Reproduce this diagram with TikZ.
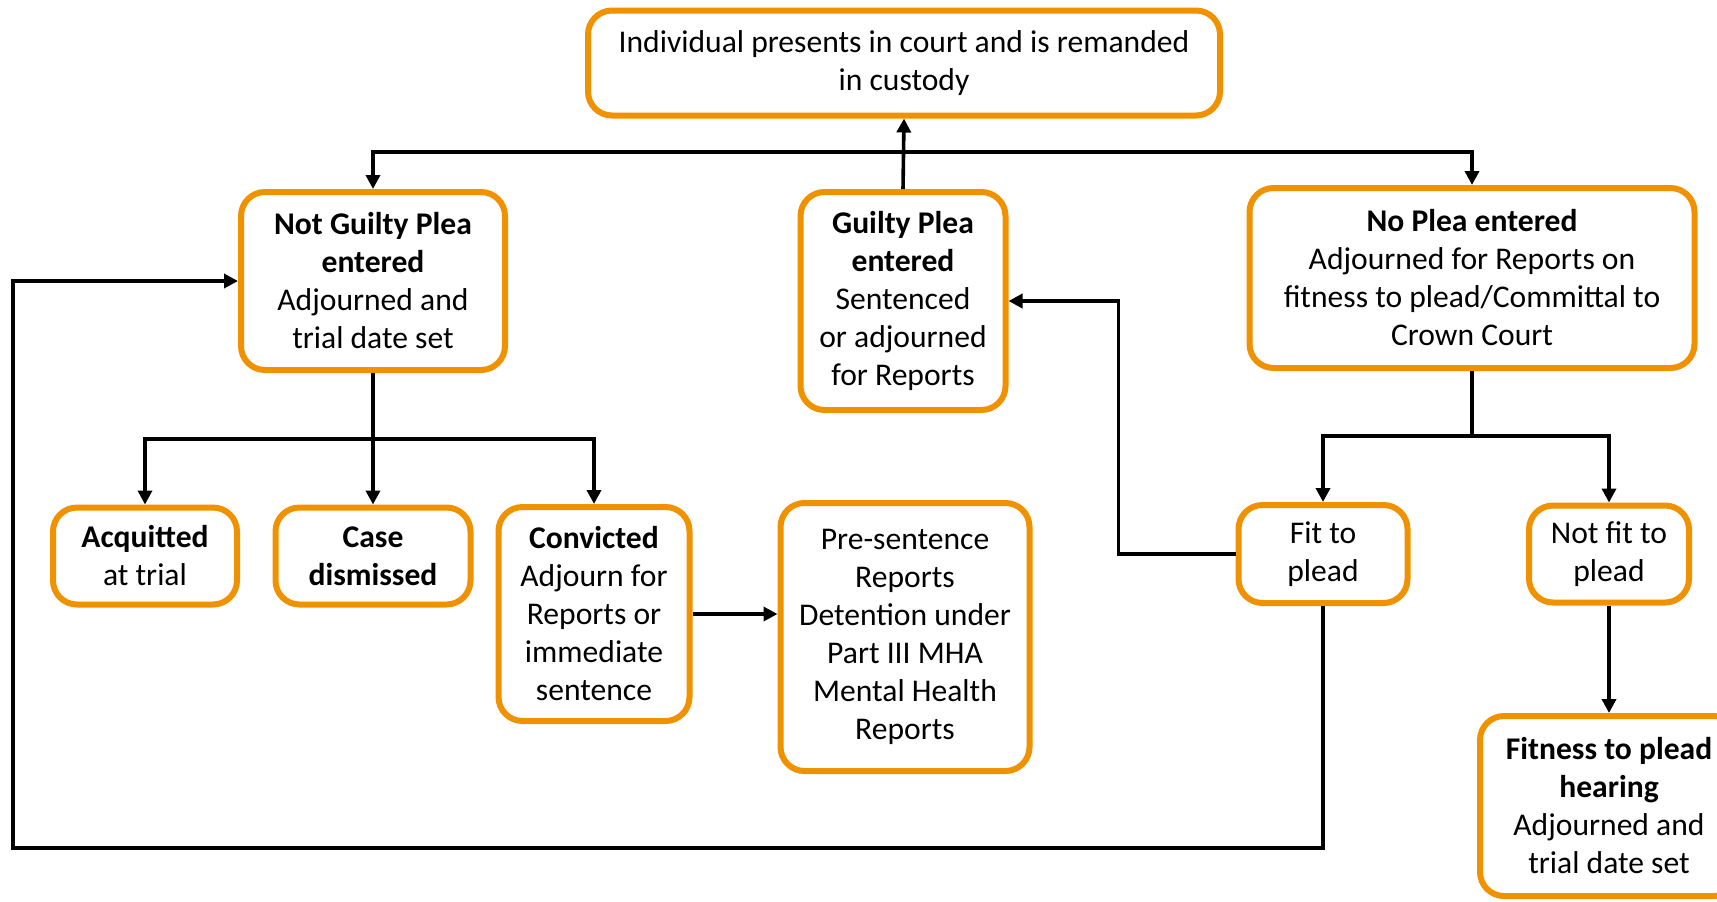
\documentclass[tikz,border=0pt]{standalone}
\usepackage{fontspec}
\setmainfont{Carlito}
\usepackage{xcolor}
\usetikzlibrary{arrows.meta,positioning,calc}
\definecolor{courtorange}{RGB}{240,145,0}

\begin{document}
\begin{tikzpicture}[
  x=0.5pt, y=-0.5pt,
  box/.style={draw=courtorange, line width=3pt, rounded corners=12pt, fill=white,
              align=center, inner sep=2pt,
              font=\fontsize{15.8pt}{19pt}\selectfont},
  arr/.style={-{Triangle[length=7pt,width=7pt]}, line width=1.8pt},
  link/.style={line width=1.8pt}
]
  \useasboundingbox[fill=white] (0,0) rectangle (1717,901);

  % Top
  \node[box, minimum width=316pt, minimum height=52.5pt] (remand) at (904,63)
    {Individual presents in court and is remanded\\in custody};

  % Pleas
  \node[box, minimum width=132pt, minimum height=89pt] (notguilty) at (373,281)
    {\textbf{Not Guilty Plea}\\\textbf{entered}\\Adjourned and\\trial date set};
  \node[box, minimum width=102.5pt, minimum height=109pt] (guilty) at (903,301)
    {\textbf{Guilty Plea}\\\textbf{entered}\\Sentenced\\or adjourned\\for Reports};
  \node[box, minimum width=222.5pt, minimum height=90pt] (noplea) at (1472,278)
    {\textbf{No Plea entered}\\Adjourned for Reports on\\fitness to plead/Committal to\\Crown Court};

  % Outcomes of a not guilty plea
  \node[box, minimum width=92pt, minimum height=48.5pt] (acquit) at (145,556)
    {\textbf{Acquitted}\\at trial};
  \node[box, minimum width=97.5pt, minimum height=48.5pt] (dismiss) at (373,556)
    {\textbf{Case}\\\textbf{dismissed}};
  \node[box, minimum width=95.5pt, minimum height=107pt] (convict) at (594,614)
    {\textbf{Convicted}\\Adjourn for\\Reports or\\immediate\\sentence};
  \node[box, minimum width=124.5pt, minimum height=134pt] (reports) at (905,637)
    {Pre-sentence\\Reports\\Detention under\\Part III MHA\\Mental Health\\Reports};

  % Fitness to plead
  \node[box, minimum width=84.5pt, minimum height=49pt] (fit) at (1323,554)
    {Fit to\\plead};
  \node[box, minimum width=80pt, minimum height=48.5pt] (notfit) at (1609,554)
    {Not fit to\\plead};
  \node[box, minimum width=129pt, minimum height=90pt] (hearing) at (1609,806)
    {\textbf{Fitness to plead}\\\textbf{hearing}\\Adjourned and\\trial date set};

  \coordinate (split) at (903,152);
  \coordinate (ngsplit) at (373,439);
  \coordinate (npsplit) at (1472,436);
  \coordinate (loop) at (13,848);

  % Arrows
  \draw[arr] (guilty.north) -- (remand.south);
  \draw[arr] (split) -| (notguilty.north);
  \draw[arr] (split) -| (noplea.north);
  \draw[link] (notguilty.south) -- (ngsplit);
  \draw[arr] (ngsplit) -| (acquit.north);
  \draw[arr] (ngsplit) -- (dismiss.north);
  \draw[arr] (ngsplit) -| (convict.north);
  \draw[arr] (convict.east) -- (convict.east -| reports.west);
  \draw[link] (noplea.south) -- (npsplit);
  \draw[arr] (npsplit) -| (fit.north);
  \draw[arr] (npsplit) -| (notfit.north);
  \draw[arr] (notfit.south) -- (hearing.north);
  \draw[arr] (fit.west) -- ++(-117,0) |- (guilty.east);
  \draw[arr] (fit.south) |- (loop) |- (notguilty.west);
\end{tikzpicture}
\end{document}
